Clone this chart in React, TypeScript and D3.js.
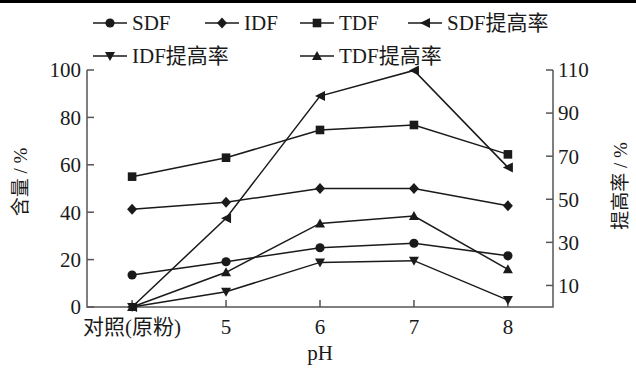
import React from "react";
import * as d3 from "d3";

const categories = ["对照(原粉)", "5", "6", "7", "8"];
const SDF = [13.5, 19.1, 25.0, 26.9, 21.6];
const IDF = [41.2, 44.2, 50.0, 50.0, 42.7];
const TDF = [55.0, 63.0, 74.7, 76.8, 64.4];
const SDFrate = [0, 41.2, 97.9, 109.8, 64.8];
const IDFrate = [0, 7.1, 20.7, 21.5, 3.2];
const TDFrate = [0, 16.1, 38.8, 42.2, 17.5];
const leftTicks = [0, 20, 40, 60, 80, 100];
const rightTicks = [10, 30, 50, 70, 90, 110];

const W = 636, H = 376;
const L = 87, R = 553, T = 70, B = 307;
const FONT = "'Liberation Serif', 'Times New Roman', 'Noto Sans CJK SC', serif";
const INK = "#1a1a1a";
const AX = "#555";

type Shape = "circle" | "diamond" | "square" | "tleft" | "tdown" | "tup";

function Marker({ x, y, shape }: { x: number; y: number; shape: Shape }) {
  const s = 5;
  switch (shape) {
    case "circle":
      return <circle cx={x} cy={y} r={4.6} fill={INK} />;
    case "diamond":
      return <path d={`M${x},${y - 5.5}L${x + 5},${y}L${x},${y + 5.5}L${x - 5},${y}Z`} fill={INK} />;
    case "square":
      return <rect x={x - 4.3} y={y - 4.3} width={8.6} height={8.6} fill={INK} />;
    case "tleft":
      return <path d={`M${x - s},${y}L${x + s},${y - s}L${x + s},${y + s}Z`} fill={INK} />;
    case "tdown":
      return <path d={`M${x - s},${y - 4}L${x + s},${y - 4}L${x},${y + 5}Z`} fill={INK} />;
    case "tup":
      return <path d={`M${x - s},${y + 4}L${x + s},${y + 4}L${x},${y - 5}Z`} fill={INK} />;
  }
  return null;
}

export default function App() {
  const x = d3.scalePoint<string>().domain(categories).range([L, R]).padding(0.48);
  const yL = d3.scaleLinear().domain([0, 100]).range([B, T]);
  const yR = d3.scaleLinear().domain([0, 110]).range([B, T]);

  const series: { vals: number[]; scale: d3.ScaleLinear<number, number>; shape: Shape }[] = [
    { vals: SDF, scale: yL, shape: "circle" },
    { vals: IDF, scale: yL, shape: "diamond" },
    { vals: TDF, scale: yL, shape: "square" },
    { vals: SDFrate, scale: yR, shape: "tleft" },
    { vals: IDFrate, scale: yR, shape: "tdown" },
    { vals: TDFrate, scale: yR, shape: "tup" },
  ];

  const legend: { label: string; shape: Shape; x: number; y: number }[] = [
    { label: "SDF", shape: "circle", x: 93, y: 23 },
    { label: "IDF", shape: "diamond", x: 205, y: 23 },
    { label: "TDF", shape: "square", x: 300, y: 23 },
    { label: "SDF提高率", shape: "tleft", x: 408, y: 23 },
    { label: "IDF提高率", shape: "tdown", x: 93, y: 56 },
    { label: "TDF提高率", shape: "tup", x: 300, y: 56 },
  ];

  return (
    <svg width={W} height={H} style={{ position: "absolute", left: 0, top: 0, background: "#fff" }}>
      <rect x={0} y={0} width={W} height={3} fill="#000" />
      {/* legend */}
      {legend.map((l) => (
        <g key={l.label}>
          <line x1={l.x} x2={l.x + 34} y1={l.y} y2={l.y} stroke={INK} strokeWidth={1.5} />
          <Marker x={l.x + 17} y={l.y} shape={l.shape} />
          <text x={l.x + 39} y={l.y} dy="0.35em" fontFamily={FONT} fontSize={21} fill={INK}>
            {l.label}
          </text>
        </g>
      ))}
      {/* axes */}
      <path d={`M${L},${T}V${B}H${R}V${T}`} fill="none" stroke={AX} strokeWidth={1.5} />
      {leftTicks.map((t) => (
        <g key={"l" + t}>
          <line x1={L} x2={L + 7} y1={yL(t)} y2={yL(t)} stroke={AX} strokeWidth={1.5} />
          <text x={L - 6} y={yL(t)} dy="0.35em" textAnchor="end" fontFamily={FONT} fontSize={21} fill={INK}>
            {t}
          </text>
        </g>
      ))}
      {rightTicks.map((t) => (
        <g key={"r" + t}>
          <line x1={R - 7} x2={R} y1={yR(t)} y2={yR(t)} stroke={AX} strokeWidth={1.5} />
          <text x={R + 5} y={yR(t)} dy="0.35em" fontFamily={FONT} fontSize={21} fill={INK}>
            {t}
          </text>
        </g>
      ))}
      {categories.map((c) => (
        <g key={"x" + c}>
          <line x1={x(c)!} x2={x(c)!} y1={B} y2={B - 7} stroke={AX} strokeWidth={1.5} />
          <text x={x(c)!} y={B + 20} dy="0.35em" textAnchor="middle" fontFamily={FONT} fontSize={21} fill={INK}>
            {c}
          </text>
        </g>
      ))}
      <text x={(L + R) / 2} y={353} dy="0.35em" textAnchor="middle" fontFamily={FONT} fontSize={21} fill={INK}>
        pH
      </text>
      <text transform={`translate(20,182) rotate(-90)`} textAnchor="middle" dy="0.35em" fontFamily={FONT} fontSize={19} fill={INK}>
        含量 / %
      </text>
      <text transform={`translate(620,186) rotate(-90)`} textAnchor="middle" dy="0.35em" fontFamily={FONT} fontSize={19} fill={INK}>
        提高率 / %
      </text>
      {/* series */}
      {series.map((s, i) => {
        const line = d3
          .line<number>()
          .x((_, j) => x(categories[j])!)
          .y((v) => s.scale(v));
        return (
          <g key={"s" + i}>
            <path d={line(s.vals) || ""} fill="none" stroke={INK} strokeWidth={1.5} />
            {s.vals.map((v, j) => (
              <Marker key={j} x={x(categories[j])!} y={s.scale(v)} shape={s.shape} />
            ))}
          </g>
        );
      })}
    </svg>
  );
}
